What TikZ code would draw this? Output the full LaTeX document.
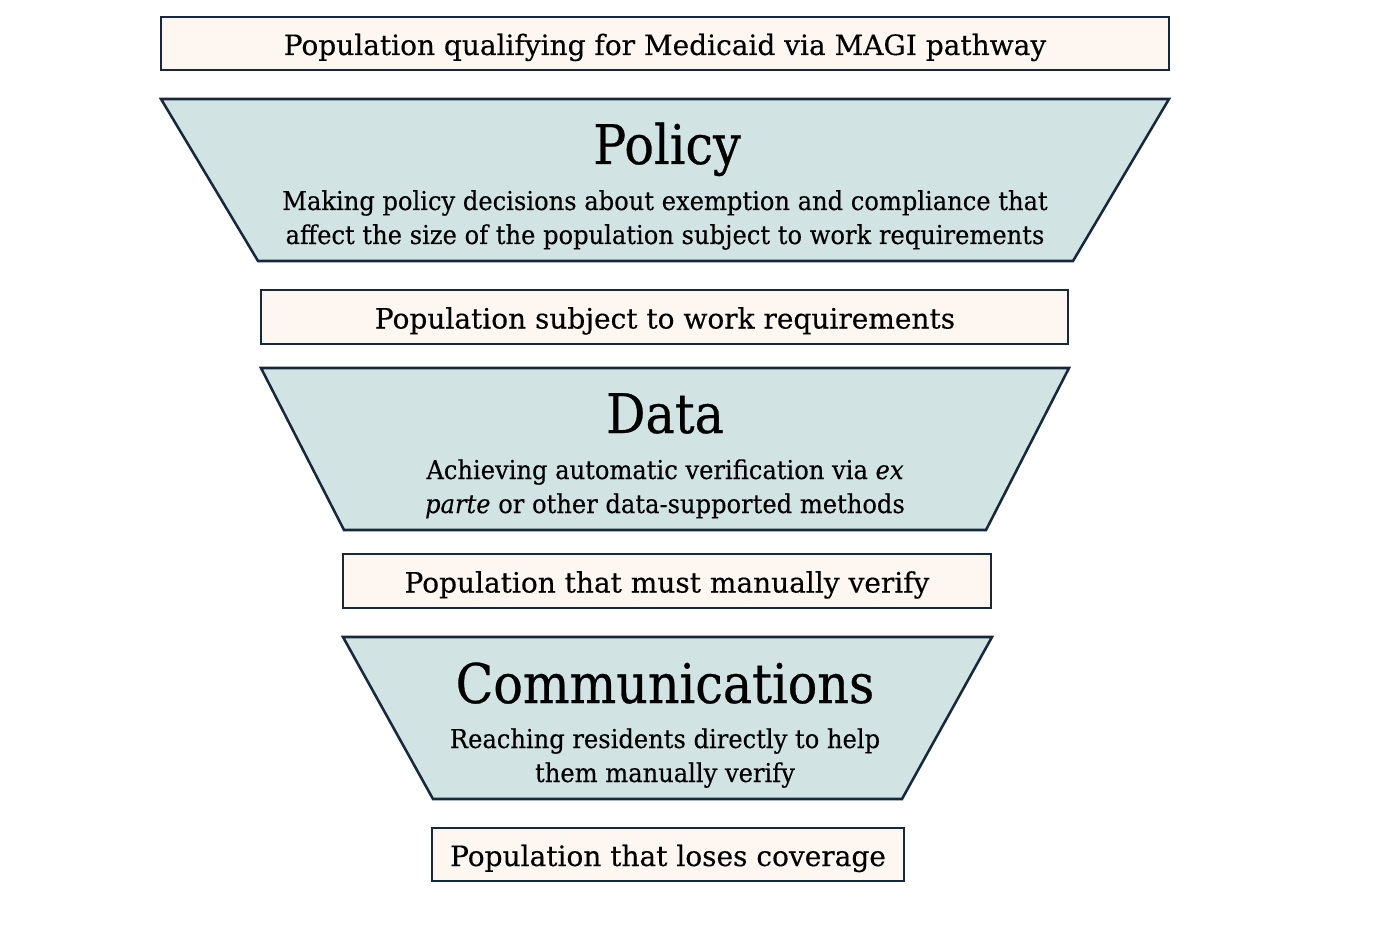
\documentclass[tikz,border=0pt]{standalone}
\usepackage{fontspec}
\setmainfont{DejaVu Serif}[FakeBold=0.35]
\newfontfamily\titlefont{DejaVu Serif}[FakeStretch=0.9,FakeBold=0.5]
\newfontfamily\descfont{DejaVu Serif}[FakeStretch=0.93,FakeBold=0.35]
\definecolor{edge}{HTML}{16283A}
\definecolor{boxfill}{HTML}{FDF6F1}
\definecolor{funfill}{HTML}{D2E3E4}
\begin{document}
\begin{tikzpicture}[x=0.75pt,y=-0.75pt,
  popbox/.style={draw=edge, line width=1.6pt, fill=boxfill, inner sep=0pt},
  funnel/.style={draw=edge, line width=1.9pt, fill=funfill, line join=miter},
  boxtext/.style={font=\fontsize{21}{24}\selectfont, anchor=base, inner sep=0pt},
  title/.style={font=\titlefont\fontsize{41}{48}\selectfont, anchor=base, inner sep=0pt},
  desc/.style={font=\descfont\fontsize{19.5}{25.5}\selectfont, anchor=base, inner sep=0pt}]
\useasboundingbox[fill=white] (0,0) rectangle (1392,927);
% population boxes
\node[popbox, minimum width=756pt, minimum height=39.75pt] (b1) at (665,43.5) {};
\node[popbox, minimum width=605.25pt, minimum height=40.5pt] (b2) at (664.5,317) {};
\node[popbox, minimum width=486pt, minimum height=40.5pt] (b3) at (667,581) {};
\node[popbox, minimum width=354pt, minimum height=39.75pt] (b4) at (668,854.5) {};
\node[boxtext] (t1) at (665,55) {Population qualifying for Medicaid via MAGI pathway};
\node[boxtext] (t2) at (665,328.5) {Population subject to work requirements};
\node[boxtext] (t3) at (667,592.5) {Population that must manually verify};
\node[boxtext] (t4) at (668,866) {Population that loses coverage};
% funnels
\coordinate (p1) at (161,99); \coordinate (p2) at (1169,99);
\coordinate (p3) at (1073,261); \coordinate (p4) at (258,261);
\draw[funnel] (p1) -- (p2) -- (p3) -- (p4) -- cycle;
\coordinate (d1) at (261,368); \coordinate (d2) at (1069,368);
\coordinate (d3) at (986,530); \coordinate (d4) at (344,530);
\draw[funnel] (d1) -- (d2) -- (d3) -- (d4) -- cycle;
\coordinate (c1) at (343,637); \coordinate (c2) at (992,637);
\coordinate (c3) at (902,799); \coordinate (c4) at (433,799);
\draw[funnel] (c1) -- (c2) -- (c3) -- (c4) -- cycle;
% funnel texts
\node[title] (policy) at (667,164) {Policy};
\node[desc] (policy1) at (665,210) {Making policy decisions about exemption and compliance that};
\node[desc] (policy2) at (665,244) {affect the size of the population subject to work requirements};
\node[title] (data) at (665,433) {Data};
\node[desc] (data1) at (665,479) {Achieving automatic verification via \textit{ex}};
\node[desc] (data2) at (665,513) {\textit{parte} or other data-supported methods};
\node[title] (comm) at (665,703) {Communications};
\node[desc] (comm1) at (665,748) {Reaching residents directly to help};
\node[desc] (comm2) at (665,782) {them manually verify};
\end{tikzpicture}
\end{document}
